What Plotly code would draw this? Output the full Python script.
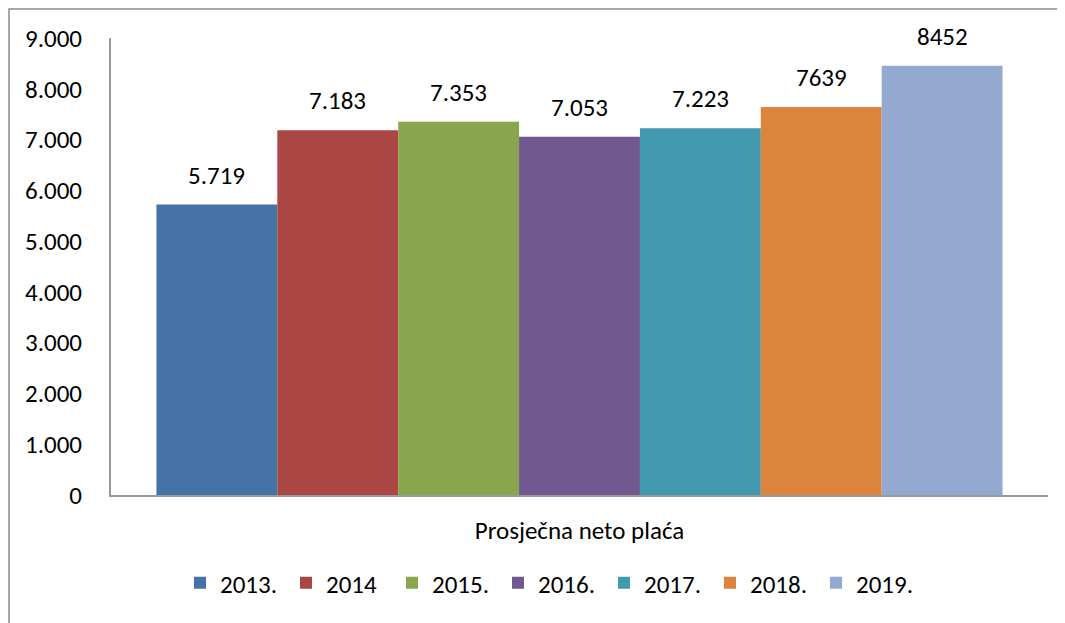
import plotly.graph_objects as go

category = ["Prosječna neto plaća"]
series_names = ["2013.", "2014", "2015.", "2016.", "2017.", "2018.", "2019."]
values = [5719, 7183, 7353, 7053, 7223, 7639, 8452]
value_labels = ["5.719", "7.183", "7.353", "7.053", "7.223", "7639", "8452"]
colors = ["#4572A7", "#AA4643", "#89A54E", "#71588F", "#4198AF", "#DB843D", "#93A9CF"]
y_tickvals = [0, 1000, 2000, 3000, 4000, 5000, 6000, 7000, 8000, 9000]
y_ticktext = ["0", "1.000", "2.000", "3.000", "4.000", "5.000", "6.000", "7.000", "8.000", "9.000"]

FONT = "Calibri, Carlito, Lato, sans-serif"
FS = 25
BARGAP = 0.097
OFF = 8  # page body offset

fig = go.Figure()
for name, v, c in zip(series_names, values, colors):
    fig.add_trace(go.Bar(x=category, y=[v], name=name, marker=dict(color=c, line=dict(width=0))))

n = len(values)
group_w = 1 - BARGAP
bw = group_w / n
annotations = []
for i, (v, lab) in enumerate(zip(values, value_labels)):
    annotations.append(dict(
        x=-group_w / 2 + (i + 0.5) * bw, y=v, xref="x", yref="y",
        text=lab, showarrow=False, yanchor="bottom", xanchor="center",
        yshift=12, font=dict(family=FONT, size=FS, color="#000000")))

W, H = 1065, 623
# target pixel positions in the screenshot
PL, PR, PT, PB = 111, 1048, 38, 495
L, T = PL - OFF, PT - OFF
R = W - (PR - OFF)
B = H - (PB - OFF)
pw, ph = PR - PL, PB - PT

def px(x):
    return (x - PL) / pw

def py(y):
    return (PB - y) / ph

fig.update_layout(
    width=W, height=H,
    margin=dict(l=L, r=R, t=T, b=B, autoexpand=False),
    paper_bgcolor="white", plot_bgcolor="white",
    barmode="group", bargap=BARGAP, bargroupgap=0,
    font=dict(family=FONT, size=FS, color="#000000"),
    annotations=annotations,
    showlegend=True,
    legend=dict(orientation="h", x=px(180), xanchor="left", y=py(583), yanchor="middle",
                font=dict(family=FONT, size=FS), traceorder="normal",
                itemwidth=30, entrywidth=61, entrywidthmode="pixels",
                bgcolor="rgba(0,0,0,0)"),
    shapes=[dict(type="rect", xref="paper", yref="paper",
                 x0=px(9), x1=px(1075), y0=py(633), y1=py(9),
                 line=dict(color="#8C8C8C", width=1.5), fillcolor="rgba(0,0,0,0)", layer="below")],
    xaxis=dict(showline=True, linecolor="#9A9A9A", linewidth=2, showgrid=False,
               ticks="", ticklabelstandoff=12, tickfont=dict(family=FONT, size=FS),
               range=[-0.5, 0.5], zeroline=False),
    yaxis=dict(range=[0, 9000], tickvals=y_tickvals, ticktext=y_ticktext,
               showline=True, linecolor="#9A9A9A", linewidth=2, showgrid=False,
               ticks="", ticklabelstandoff=22, zeroline=False,
               tickfont=dict(family=FONT, size=FS)),
)

fig.write_html("out.html")
